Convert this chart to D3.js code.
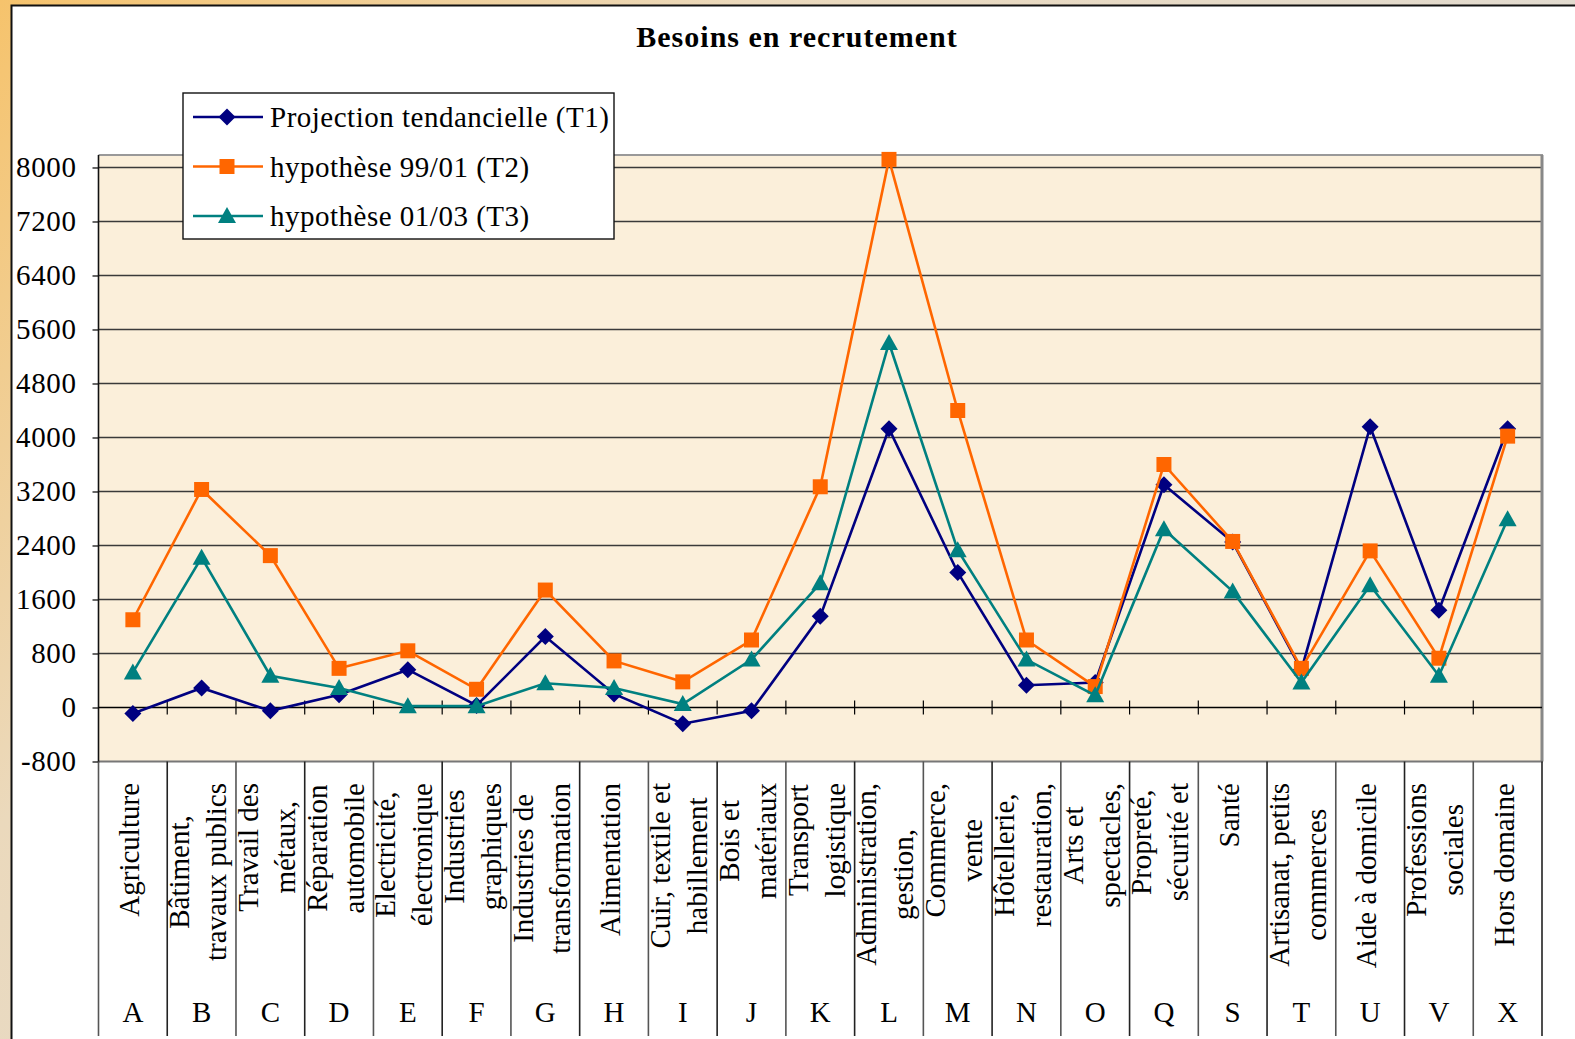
<!DOCTYPE html>
<html>
<head>
  <meta charset="utf-8">
  <title>Besoins en recrutement</title>
  <script src="https://d3js.org/d3.v7.min.js"></script>
  <style>
    body { margin: 0; overflow: hidden; }
    text { font-family: "Liberation Serif", "Times New Roman", serif; fill: #000; }
  </style>
</head>
<body>
  <svg id="chart" width="1575" height="1039"></svg>

  <script>
    // categories (letters + multi-line names)
    const codes = ["A", "B", "C", "D", "E", "F", "G", "H", "I", "J", "K", "L", "M", "N", "O", "Q", "S", "T", "U", "V", "X"];
    const names = [
      ["Agriculture"],
      ["Bâtiment,", "travaux publics"],
      ["Travail des", "métaux,"],
      ["Réparation", "automobile"],
      ["Electricité,", "électronique"],
      ["Industries", "graphiques"],
      ["Industries de", "transformation"],
      ["Alimentation"],
      ["Cuir, textile et", "habillement"],
      ["Bois et", "matériaux"],
      ["Transport", "logistique"],
      ["Administration,", "gestion,"],
      ["Commerce,", "vente"],
      ["Hôtellerie,", "restauration,"],
      ["Arts et", "spectacles,"],
      ["Propreté,", "sécurité et"],
      ["Santé"],
      ["Artisanat, petits", "commerces"],
      ["Aide à domicile"],
      ["Professions", "sociales"],
      ["Hors domaine"]
    ];

    // series values
    const t1 = [-90, 290, -50, 190, 560, 30, 1050, 200, -240, -50, 1350, 4130, 2000, 330, 370, 3300, 2450, 560, 4160, 1440, 4130];
    const t2 = [1300, 3230, 2250, 580, 840, 270, 1740, 690, 380, 1000, 3270, 8120, 4400, 1000, 310, 3600, 2460, 580, 2320, 730, 4020];
    const t3 = [520, 2220, 470, 290, 20, 20, 360, 290, 50, 710, 1840, 5400, 2330, 710, 180, 2640, 1720, 370, 1810, 470, 2790];

    const yTicks = [-800, 0, 800, 1600, 2400, 3200, 4000, 4800, 5600, 6400, 7200, 8000];

    const series = [
      { name: "Projection tendancielle (T1)", values: t1, color: "#000080", marker: "diamond" },
      { name: "hypothèse 99/01 (T2)", values: t2, color: "#FF6600", marker: "square" },
      { name: "hypothèse 01/03 (T3)", values: t3, color: "#008080", marker: "triangle" }
    ];

    const svg = d3.select("#chart");
    const W = 1575, H = 1039;

    // plot area
    const plot = { left: 98.5, right: 1542, top: 155, bottom: 761.5 };

    const x = d3.scaleBand().domain(codes).range([plot.left, plot.right]).padding(0);
    const y = d3.scaleLinear().domain([-800, 8185]).range([plot.bottom, plot.top]);

    // outer background
    const defs = svg.append("defs");
    const bg = defs.append("linearGradient").attr("id", "bg")
      .attr("x1", 0).attr("y1", 0).attr("x2", 1).attr("y2", 0.6);
    bg.append("stop").attr("offset", 0).attr("stop-color", "#F6C36C");
    bg.append("stop").attr("offset", 0.35).attr("stop-color", "#EBD9BC");
    bg.append("stop").attr("offset", 1).attr("stop-color", "#DCDCDC");
    svg.append("rect").attr("width", W).attr("height", H).attr("fill", "url(#bg)");

    // white panel
    svg.append("rect").attr("x", 11).attr("y", 5).attr("width", W - 11).attr("height", H - 5)
      .attr("fill", "#fff");
    svg.append("path").attr("d", `M11.5,${H} V5.5 H${W}`).attr("fill", "none")
      .attr("stroke", "#111").attr("stroke-width", 2);

    // title
    svg.append("text").attr("x", 797).attr("y", 47)
      .attr("text-anchor", "middle").attr("font-size", 30).attr("font-weight", "bold")
      .attr("letter-spacing", 1)
      .text("Besoins en recrutement");

    // plot background
    svg.append("rect").attr("x", plot.left).attr("y", plot.top)
      .attr("width", plot.right - plot.left).attr("height", plot.bottom - plot.top)
      .attr("fill", "#FBEFDA");

    // gridlines
    svg.append("g").selectAll("line")
      .data(yTicks.filter(d => d > 0))
      .join("line")
      .attr("x1", plot.left).attr("x2", plot.right)
      .attr("y1", d => y(d)).attr("y2", d => y(d))
      .attr("stroke", "#3a3a3a").attr("stroke-width", 1.4);

    // plot frame
    svg.append("line").attr("x1", plot.left).attr("x2", plot.right + 1)
      .attr("y1", plot.top).attr("y2", plot.top).attr("stroke", "#999").attr("stroke-width", 2);
    svg.append("line").attr("x1", plot.right).attr("x2", plot.right)
      .attr("y1", plot.top).attr("y2", plot.bottom).attr("stroke", "#888").attr("stroke-width", 3);
    svg.append("line").attr("x1", plot.left).attr("x2", plot.right + 1)
      .attr("y1", plot.bottom).attr("y2", plot.bottom).attr("stroke", "#777").attr("stroke-width", 2);

    // y axis
    const yAxis = svg.append("g")
      .attr("transform", `translate(${plot.left},0)`)
      .call(d3.axisLeft(y).tickValues(yTicks).tickFormat(d => String(d))
        .tickSize(6).tickSizeOuter(0).tickPadding(16));
    yAxis.select(".domain").remove();
    yAxis.selectAll(".tick line").attr("stroke", "#000").attr("stroke-width", 1.2);
    yAxis.selectAll("text")
      .attr("font-family", "'Liberation Serif', 'Times New Roman', serif")
      .attr("font-size", 29).attr("letter-spacing", 0.6).attr("fill", "#000");
    svg.append("line").attr("x1", plot.left).attr("x2", plot.left)
      .attr("y1", plot.top).attr("y2", plot.bottom + 1).attr("stroke", "#111").attr("stroke-width", 1.6);

    // zero line with category ticks
    svg.append("line").attr("x1", plot.left).attr("x2", plot.right)
      .attr("y1", y(0)).attr("y2", y(0)).attr("stroke", "#000").attr("stroke-width", 1.6);
    const bounds = codes.map(c => x(c) + x.bandwidth()).slice(0, -1);
    svg.append("g").selectAll("line").data(bounds).join("line")
      .attr("x1", d => d).attr("x2", d => d)
      .attr("y1", y(0) - 7).attr("y2", y(0) + 7)
      .attr("stroke", "#000").attr("stroke-width", 1.2);

    // category table below the plot
    const tableLines = [plot.left].concat(bounds).concat([plot.right]);
    svg.append("g").selectAll("line").data(tableLines).join("line")
      .attr("x1", d => d).attr("x2", d => d)
      .attr("y1", plot.bottom).attr("y2", H - 3)
      .attr("stroke", (d, i) => i % 2 ? "#222" : "#555").attr("stroke-width", 1.6);

    const labelFont = 29, lineGap = 37, blockTop = 783;
    codes.forEach((c, ci) => {
      const cx = x(c) + x.bandwidth() / 2;
      const lines = names[ci];
      const n = lines.length;
      const nodes = lines.map(s => {
        return svg.append("text")
          .attr("font-size", labelFont)
          .attr("text-anchor", "middle")
          .text(s);
      });
      const maxLen = d3.max(nodes, t => t.node().getComputedTextLength());
      const cy = blockTop + maxLen / 2;
      nodes.forEach((t, i) => {
        const lx = cx + 6 + (i - (n - 1) / 2) * lineGap;
        t.attr("transform", `translate(${lx},${cy}) rotate(-90)`);
      });
      svg.append("text")
        .attr("x", cx).attr("y", 1022)
        .attr("text-anchor", "middle").attr("font-size", labelFont)
        .text(c);
    });

    // markers
    function markerPath(type) {
      if (type === "diamond") return "M0,-8.5L8.5,0L0,8.5L-8.5,0Z";
      if (type === "square") return "M-7.5,-7.5H7.5V7.5H-7.5Z";
      return "M0,-9L9,7L-9,7Z";
    }

    const line = d3.line()
      .x((d, i) => x(codes[i]) + x.bandwidth() / 2)
      .y(d => y(d));

    series.forEach(s => {
      const g = svg.append("g");
      g.append("path").datum(s.values)
        .attr("d", line)
        .attr("fill", "none").attr("stroke", s.color).attr("stroke-width", 2.6)
        .attr("stroke-linejoin", "miter");
      g.selectAll("path.m").data(s.values).join("path")
        .attr("class", "m")
        .attr("transform", (d, i) => `translate(${x(codes[i]) + x.bandwidth() / 2},${y(d)})`)
        .attr("d", markerPath(s.marker))
        .attr("fill", s.color);
    });

    // legend
    const lg = svg.append("g");
    lg.append("rect").attr("x", 183).attr("y", 93).attr("width", 431).attr("height", 146)
      .attr("fill", "#fff").attr("stroke", "#111").attr("stroke-width", 1.4);
    series.forEach((s, i) => {
      const ly = 117 + i * 49.5;
      lg.append("line").attr("x1", 193).attr("x2", 263).attr("y1", ly).attr("y2", ly)
        .attr("stroke", s.color).attr("stroke-width", 2.6);
      lg.append("path").attr("transform", `translate(227,${ly})`)
        .attr("d", markerPath(s.marker)).attr("fill", s.color);
      lg.append("text").attr("x", 270).attr("y", ly + 10)
        .attr("font-size", 29).attr("letter-spacing", 0.5)
        .text(s.name);
    });
  </script>
</body>
</html>
